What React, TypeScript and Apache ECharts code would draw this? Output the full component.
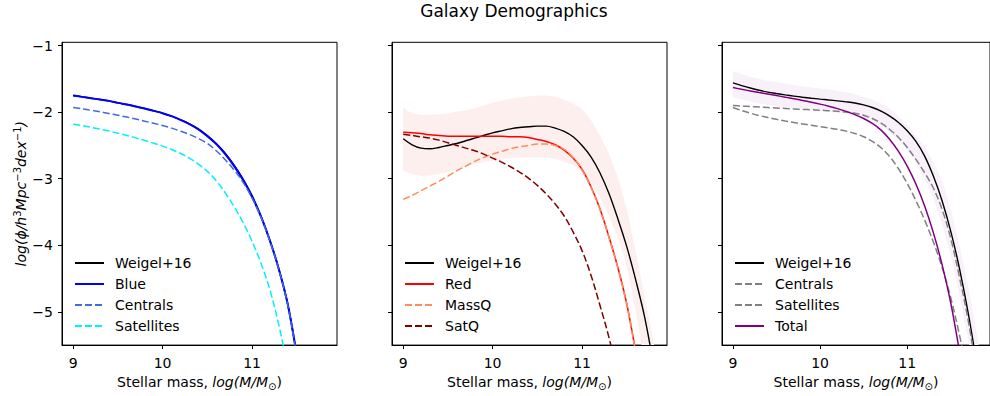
import React, { useEffect, useRef } from 'react';
import * as echarts from 'echarts';

const FONT = 'DejaVu Sans';
const TITLE = 'Galaxy Demographics';
const X_TICKS = [9, 10, 11];
const Y_TICKS = [-5, -4, -3, -2, -1];

// Panel 1 (blue)
const P1_X = [9.0, 9.1, 9.2, 9.3, 9.4, 9.5, 9.6, 9.7, 9.8, 9.9, 10.0, 10.1, 10.2, 10.3, 10.4, 10.5, 10.6, 10.7, 10.8, 10.9, 11.0, 11.1, 11.2, 11.3, 11.4, 11.5, 11.6];
const P1_WEIGEL = [-1.75, -1.77, -1.79, -1.81, -1.83, -1.86, -1.885, -1.915, -1.945, -1.98, -2.015, -2.06, -2.115, -2.175, -2.25, -2.35, -2.47, -2.615, -2.795, -3.005, -3.255, -3.56, -3.93, -4.36, -4.89, -5.65, -6.55];
const P1_BLUE = [-1.75, -1.77, -1.79, -1.81, -1.83, -1.86, -1.885, -1.915, -1.945, -1.98, -2.015, -2.06, -2.115, -2.18, -2.26, -2.36, -2.48, -2.63, -2.81, -3.02, -3.27, -3.57, -3.93, -4.36, -4.89, -5.65, -6.55];
const P1_CENTRALS = [-1.93, -1.95, -1.972, -1.995, -2.02, -2.046, -2.074, -2.104, -2.135, -2.167, -2.2, -2.24, -2.285, -2.335, -2.395, -2.47, -2.58, -2.715, -2.87, -3.055, -3.29, -3.58, -3.94, -4.37, -4.9, -5.67, -6.57];
const P1_SATELLITES = [-2.18, -2.202, -2.227, -2.254, -2.284, -2.316, -2.35, -2.386, -2.425, -2.466, -2.51, -2.56, -2.62, -2.69, -2.78, -2.89, -3.03, -3.21, -3.42, -3.66, -3.94, -4.27, -4.67, -5.2, -5.85, -6.55, -7.3];

// Panel 2 (red)
const P2_X = [9.0, 9.1, 9.2, 9.3, 9.4, 9.5, 9.6, 9.7, 9.8, 9.9, 10.0, 10.1, 10.2, 10.3, 10.4, 10.5, 10.6, 10.7, 10.8, 10.9, 11.0, 11.1, 11.2, 11.3, 11.4, 11.5, 11.6, 11.7, 11.8, 11.9];
const P2_WEIGEL = [-2.4, -2.49, -2.54, -2.55, -2.53, -2.5, -2.47, -2.43, -2.39, -2.35, -2.31, -2.28, -2.25, -2.23, -2.22, -2.21, -2.21, -2.24, -2.29, -2.37, -2.5, -2.67, -2.91, -3.22, -3.6, -4.02, -4.52, -5.08, -5.8, -6.6];
const P2_RED = [-2.3, -2.31, -2.32, -2.34, -2.35, -2.36, -2.36, -2.36, -2.36, -2.36, -2.36, -2.36, -2.37, -2.37, -2.38, -2.41, -2.44, -2.49, -2.57, -2.69, -2.86, -3.12, -3.45, -3.87, -4.33, -4.88, -5.6, -6.4, -7.2, -8.0];
const P2_MASSQ = [-3.31, -3.25, -3.18, -3.11, -3.04, -2.96, -2.88, -2.81, -2.74, -2.68, -2.63, -2.59, -2.55, -2.52, -2.5, -2.48, -2.48, -2.5, -2.56, -2.68, -2.87, -3.13, -3.46, -3.88, -4.34, -4.89, -5.61, -6.4, -7.2, -8.0];
const P2_SATQ = [-2.33, -2.35, -2.37, -2.39, -2.42, -2.46, -2.5, -2.54, -2.58, -2.63, -2.69, -2.75, -2.82, -2.9, -2.99, -3.1, -3.23, -3.38, -3.56, -3.8, -4.08, -4.45, -4.9, -5.38, -5.95, -6.6, -7.3, -8.0, -8.7, -9.4];
const P2_BAND_HIGH = [-1.93, -2.02, -2.04, -2.04, -2.03, -2.02, -1.99, -1.97, -1.94, -1.9, -1.86, -1.83, -1.8, -1.78, -1.76, -1.75, -1.75, -1.77, -1.81, -1.87, -1.95, -2.12, -2.35, -2.62, -2.98, -3.45, -4.1, -4.78, -5.45, -6.2];
const P2_BAND_LOW = [-2.88, -2.93, -2.96, -2.95, -2.93, -2.9, -2.86, -2.82, -2.78, -2.75, -2.73, -2.71, -2.69, -2.68, -2.68, -2.68, -2.68, -2.7, -2.74, -2.8, -2.9, -3.05, -3.28, -3.56, -3.88, -4.32, -4.98, -5.8, -6.6, -7.4];

// Panel 3 (total)
const P3_X = [9.0, 9.1, 9.2, 9.3, 9.4, 9.5, 9.6, 9.7, 9.8, 9.9, 10.0, 10.1, 10.2, 10.3, 10.4, 10.5, 10.6, 10.7, 10.8, 10.9, 11.0, 11.1, 11.2, 11.3, 11.4, 11.5, 11.6, 11.7, 11.8, 11.9];
const P3_WEIGEL = [-1.56, -1.6, -1.637, -1.67, -1.698, -1.72, -1.74, -1.758, -1.775, -1.79, -1.804, -1.817, -1.83, -1.845, -1.863, -1.89, -1.93, -1.985, -2.06, -2.155, -2.28, -2.44, -2.66, -2.96, -3.33, -3.79, -4.35, -5.02, -5.8, -6.65];
const P3_CENTRALS = [-1.9, -1.908, -1.916, -1.923, -1.93, -1.937, -1.944, -1.951, -1.958, -1.964, -1.97, -1.978, -1.987, -1.998, -2.015, -2.045, -2.095, -2.165, -2.26, -2.38, -2.53, -2.71, -2.91, -3.14, -3.46, -3.9, -4.48, -5.13, -5.93, -6.8];
const P3_SATELLITES = [-1.93, -1.975, -2.015, -2.05, -2.08, -2.107, -2.132, -2.155, -2.176, -2.196, -2.216, -2.236, -2.258, -2.285, -2.32, -2.37, -2.44, -2.535, -2.67, -2.85, -3.07, -3.33, -3.62, -3.95, -4.33, -4.79, -5.35, -5.98, -6.65, -7.35];
const P3_TOTAL = [-1.63, -1.656, -1.681, -1.705, -1.728, -1.751, -1.774, -1.798, -1.823, -1.85, -1.879, -1.911, -1.947, -1.988, -2.036, -2.095, -2.17, -2.27, -2.41, -2.59, -2.81, -3.08, -3.41, -3.81, -4.29, -4.87, -5.6, -6.4, -7.2, -8.0];
const P3_BAND_HIGH = [-1.38, -1.43, -1.47, -1.5, -1.53, -1.55, -1.57, -1.59, -1.61, -1.63, -1.645, -1.66, -1.68, -1.7, -1.73, -1.77, -1.81, -1.87, -1.95, -2.06, -2.19, -2.35, -2.52, -2.75, -3.03, -3.45, -4.0, -4.62, -5.35, -6.1];
const P3_BAND_LOW = [-1.78, -1.81, -1.84, -1.87, -1.89, -1.91, -1.93, -1.94, -1.95, -1.97, -1.98, -2.0, -2.01, -2.03, -2.06, -2.09, -2.14, -2.21, -2.3, -2.42, -2.57, -2.76, -3.0, -3.3, -3.68, -4.15, -4.75, -5.42, -6.2, -7.0];

const DASH = [7, 3];

function pairs(xs: number[], ys: number[]) {
  return xs.map((x, i) => [x, ys[i]]);
}

function line(name: string, idx: number, xs: number[], ys: number[], color: string, width: number, dashed: boolean) {
  return {
    type: 'line',
    name,
    xAxisIndex: idx,
    yAxisIndex: idx,
    data: pairs(xs, ys),
    symbol: 'none',
    showSymbol: false,
    smooth: 0.35,
    lineStyle: { color, width, type: dashed ? DASH : 'solid' },
    itemStyle: { color },
    z: 3,
    silent: true,
  };
}

function band(idx: number, xs: number[], low: number[], high: number[], color: string) {
  const data = xs.map((x, i) => [x, low[i], high[i]]);
  return {
    type: 'custom',
    xAxisIndex: idx,
    yAxisIndex: idx,
    data,
    encode: { x: 0, y: [1, 2] },
    z: 1,
    silent: true,
    renderItem: (params: any, api: any) => {
      if (params.dataIndex !== 0) return null;
      const top = data.map((d) => api.coord([d[0], d[2]]));
      const bot = data.map((d) => api.coord([d[0], d[1]])).reverse();
      const cs = params.coordSys;
      return {
        type: 'polygon',
        shape: { points: top.concat(bot) },
        style: { fill: color },
        clipPath: { type: 'rect', shape: { x: cs.x, y: cs.y, width: cs.width, height: cs.height } },
      };
    },
  };
}

const GRID_LEFTS = [62, 392, 722];

export default function App() {
  const ref = useRef<HTMLDivElement>(null);
  useEffect(() => {
    if (!ref.current) return;
    const chart = echarts.init(ref.current, null, { renderer: 'svg' });
    const labelStyle = { color: '#000', fontSize: 14, fontFamily: FONT };
    const grids = GRID_LEFTS.map((l) => ({
      left: l,
      top: 42.3,
      width: 275,
      height: 303.4,
      show: true,
      borderColor: '#000',
      borderWidth: 1,
      backgroundColor: 'transparent',
    }));
    const xAxes = GRID_LEFTS.map((_, i) => ({
      type: 'value',
      gridIndex: i,
      min: 8.875,
      max: 11.95,
      axisLine: { show: true, onZero: false, lineStyle: { color: '#000', width: 1 } },
      axisTick: { show: true, customValues: X_TICKS, length: 4, lineStyle: { color: '#000' } },
      axisLabel: { customValues: X_TICKS, margin: 11, ...labelStyle },
      splitLine: { show: false },
      name: '{n|Stellar mass, }{i|log(M/M}{s|⊙}{n|)}',
      nameLocation: 'middle',
      nameGap: 27,
      nameTextStyle: {
        rich: {
          n: { fontSize: 14, fontFamily: FONT, color: '#000', lineHeight: 18 },
          i: { fontSize: 14, fontFamily: FONT, color: '#000', fontStyle: 'italic', lineHeight: 18 },
          s: { fontSize: 10, fontFamily: FONT, color: '#000', verticalAlign: 'bottom', lineHeight: 18 },
        },
      },
    }));
    const yAxes = GRID_LEFTS.map((_, i) => ({
      type: 'value',
      gridIndex: i,
      min: -5.5,
      max: -0.95,
      axisLine: { show: true, onZero: false, lineStyle: { color: '#000', width: 1 } },
      axisTick: { show: true, customValues: Y_TICKS, length: 4, lineStyle: { color: '#000' } },
      axisLabel: {
        show: i === 0,
        customValues: Y_TICKS,
        margin: 9,
        formatter: (v: number) => (v < 0 ? '\u2212' + Math.abs(v) : String(v)),
        ...labelStyle,
      },
      splitLine: { show: false },
      name: i === 0 ? '{i|log(ϕ/h}{s|3}{i|Mpc}{s|−3}{i|dex}{s|−1}{i|)}' : '',
      nameLocation: 'middle',
      nameGap: 28,
      nameTextStyle: {
        rich: {
          i: { fontSize: 14, fontFamily: FONT, color: '#000', fontStyle: 'italic', lineHeight: 18 },
          s: { fontSize: 10, fontFamily: FONT, color: '#000', verticalAlign: 'top', lineHeight: 18 },
        },
      },
    }));

    const legendBase = {
      orient: 'vertical',
      top: 256,
      padding: 0,
      itemGap: 7,
      itemWidth: 29,
      itemHeight: 14,
      selectedMode: false,
      itemStyle: { opacity: 0 },
      textStyle: { color: '#000', fontSize: 14, fontFamily: FONT, padding: [0, 0, 0, 6] },
    };
    const gray = { lineStyle: { color: '#808080', type: DASH }, itemStyle: { color: '#808080', opacity: 0 } };

    const option = {
      animation: false,
      textStyle: { fontFamily: FONT },
      graphic: [
        {
          type: 'text',
          x: 514,
          y: 11,
          style: { text: TITLE, fontSize: 17, fontFamily: FONT, fill: '#000', align: 'center', verticalAlign: 'middle' },
        },
      ],
      grid: grids,
      xAxis: xAxes,
      yAxis: yAxes,
      legend: [
        { ...legendBase, left: 74, data: ['Weigel+16', 'Blue', 'Centrals', 'Satellites'] },
        { ...legendBase, left: 404, data: ['Weigel+16', 'Red', 'MassQ', 'SatQ'] },
        {
          ...legendBase,
          left: 734,
          data: ['Weigel+16', { name: 'Centrals', ...gray }, { name: 'Satellites', ...gray }, 'Total'],
        },
      ],
      series: [
        line('Weigel+16', 0, P1_X, P1_WEIGEL, '#000000', 1.5, false),
        line('Blue', 0, P1_X, P1_BLUE, '#0000ff', 2, false),
        line('Centrals', 0, P1_X, P1_CENTRALS, '#4169e1', 1.5, true),
        line('Satellites', 0, P1_X, P1_SATELLITES, '#00f0ff', 1.5, true),
        band(1, P2_X, P2_BAND_LOW, P2_BAND_HIGH, '#fdefed'),
        line('Weigel+16', 1, P2_X, P2_WEIGEL, '#000000', 1.4, false),
        line('Red', 1, P2_X, P2_RED, '#ff0000', 1.5, false),
        line('MassQ', 1, P2_X, P2_MASSQ, '#ff8c60', 1.5, true),
        line('SatQ', 1, P2_X, P2_SATQ, '#800000', 1.5, true),
        band(2, P3_X, P3_BAND_LOW, P3_BAND_HIGH, '#f8f1f9'),
        line('Weigel+16', 2, P3_X, P3_WEIGEL, '#000000', 1.4, false),
        line('Centrals ', 2, P3_X, P3_CENTRALS, '#808080', 1.5, true),
        line('Satellites ', 2, P3_X, P3_SATELLITES, '#808080', 1.5, true),
        line('Total', 2, P3_X, P3_TOTAL, '#800080', 1.5, false),
      ],
    };
    chart.setOption(option as any);
    return () => chart.dispose();
  }, []);
  return <div ref={ref} style={{ position: 'absolute', left: 0, top: 0, width: 990, height: 396 }} />;
}
